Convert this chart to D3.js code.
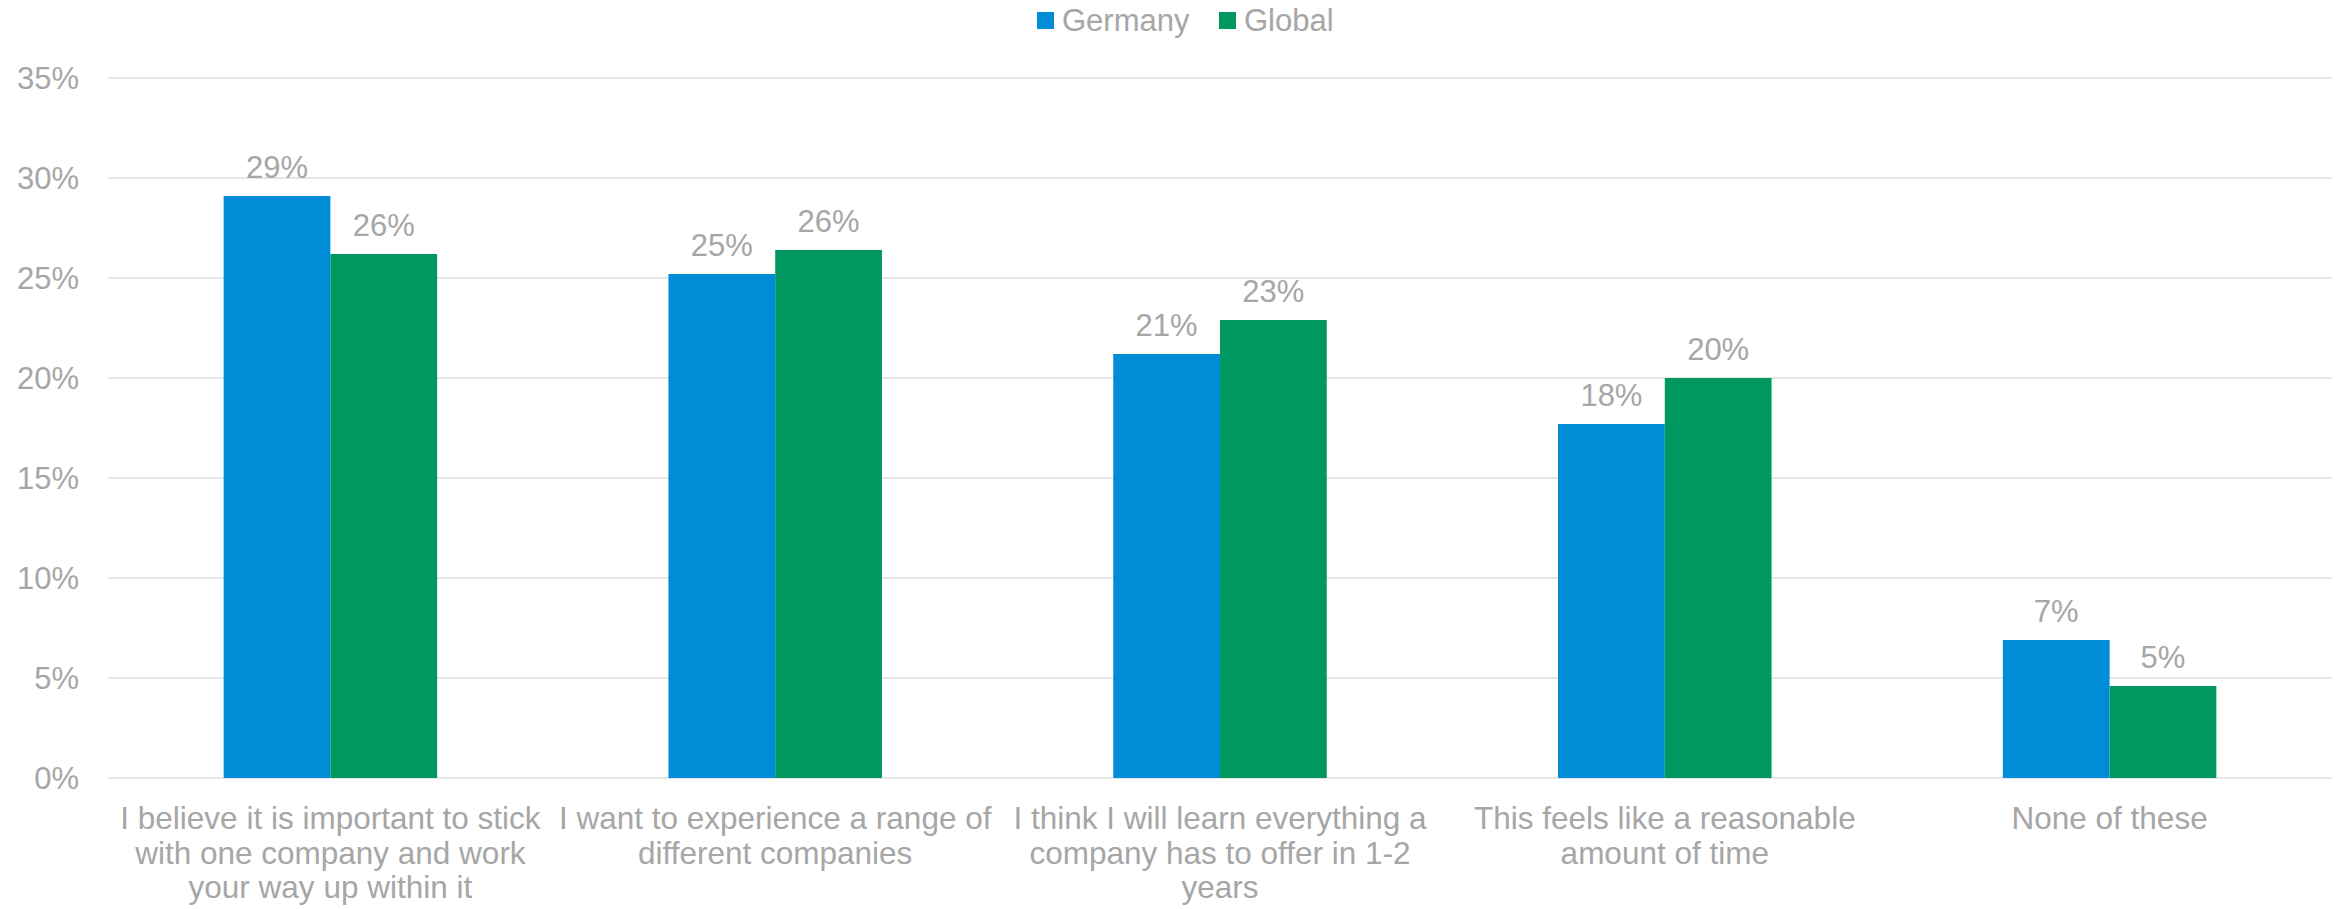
<!DOCTYPE html>
<html>
<head>
<meta charset="utf-8">
<script src="https://cdn.jsdelivr.net/npm/d3@7"></script>
<style>
  html, body { margin: 0; padding: 0; background: #ffffff; }
  svg { display: block; }
  text { font-family: "Liberation Sans", Arial, sans-serif; fill: #a6a6a6; }
</style>
</head>
<body>
<svg id="chart" width="2341" height="909"></svg>
<script>
const categories = [
  "I believe it is important to stick with one company and work your way up within it",
  "I want to experience a range of different companies",
  "I think I will learn everything a company has to offer in 1-2 years",
  "This feels like a reasonable amount of time",
  "None of these"
];
const categoryLines = [
  ["I believe it is important to stick", "with one company and work", "your way up within it"],
  ["I want to experience a range of", "different companies"],
  ["I think I will learn everything a", "company has to offer in 1-2", "years"],
  ["This feels like a reasonable", "amount of time"],
  ["None of these"]
];
const seriesNames = ["Germany", "Global"];
const germany = [29.1, 25.2, 21.2, 17.7, 6.9];
const globalVals = [26.2, 26.4, 22.9, 20.0, 4.6];
const yTicks = [0, 5, 10, 15, 20, 25, 30, 35];
const colors = ["#008CD6", "#00985F"];

const svg = d3.select("#chart");
const plotLeft = 108, plotRight = 2332, plotTop = 78, plotBottom = 778;

const x0 = d3.scaleBand().domain(categories).range([plotLeft, plotRight])
  .paddingInner(0.52).paddingOuter(0.26);
const x1 = d3.scaleBand().domain(seriesNames).range([0, x0.bandwidth()]).padding(0);
const y = d3.scaleLinear().domain([0, 35]).range([plotBottom, plotTop]);

// gridlines
svg.append("g").selectAll("line").data(yTicks).join("line")
  .attr("x1", plotLeft).attr("x2", plotRight)
  .attr("y1", d => y(d)).attr("y2", d => y(d))
  .attr("stroke", "#e6e6e6").attr("stroke-width", 2);

// y labels
svg.append("g").selectAll("text").data(yTicks).join("text")
  .attr("x", 79).attr("y", d => y(d))
  .attr("dy", "0.35em")
  .attr("text-anchor", "end")
  .attr("font-size", 31)
  .text(d => d + "%");

const series = [germany, globalVals];
const groups = svg.append("g").selectAll("g").data(categories).join("g")
  .attr("transform", d => `translate(${x0(d)},0)`);

groups.selectAll("rect").data((d, i) => seriesNames.map((s, j) => ({ s, v: series[j][i], j })))
  .join("rect")
  .attr("x", d => x1(d.s))
  .attr("width", x1.bandwidth())
  .attr("y", d => y(d.v))
  .attr("height", d => y(0) - y(d.v))
  .attr("fill", d => colors[d.j]);

groups.selectAll("text.val").data((d, i) => seriesNames.map((s, j) => ({ s, v: series[j][i], j })))
  .join("text")
  .attr("class", "val")
  .attr("x", d => x1(d.s) + x1.bandwidth() / 2)
  .attr("y", d => y(d.v) - 18)
  .attr("text-anchor", "middle")
  .attr("font-size", 31)
  .text(d => Math.round(d.v) + "%");

// category labels
const catG = svg.append("g").selectAll("text").data(categories).join("text")
  .attr("x", d => x0(d) + x0.bandwidth() / 2)
  .attr("y", 829)
  .attr("text-anchor", "middle")
  .attr("font-size", 31.5);
catG.selectAll("tspan").data((d, i) => categoryLines[i]).join("tspan")
  .attr("x", function() { return this.parentNode.getAttribute("x"); })
  .attr("dy", (d, i) => i === 0 ? 0 : 34.5)
  .text(d => d);

// legend
const legendX = [1037, 1219];
const leg = svg.append("g").selectAll("g").data(seriesNames).join("g")
  .attr("transform", (d, i) => `translate(${legendX[i]},12)`);
leg.append("rect").attr("width", 17).attr("height", 17).attr("fill", (d, i) => colors[i]);
leg.append("text").attr("x", 25).attr("y", 19).attr("font-size", 31).text(d => d);
</script>
</body>
</html>
